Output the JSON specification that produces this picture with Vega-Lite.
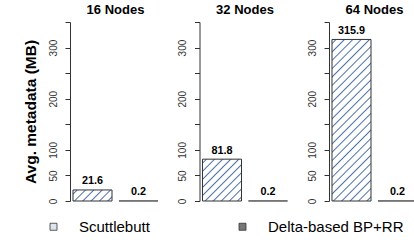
{
  "$schema": "https://vega.github.io/schema/vega-lite/v6.json",
  "background": "white",
  "padding": {"left": 23, "top": 3, "right": 0, "bottom": 0},
  "bounds": "flush",
  "spacing": 38.5,
  "config": {
    "font": "Liberation Sans",
    "view": {"stroke": null},
    "axis": {
      "domainColor": "#333",
      "tickColor": "#333",
      "tickSize": 5,
      "grid": false,
      "labelFont": "Liberation Sans",
      "labelFontSize": 10,
      "labelColor": "#333",
      "labelAngle": 270,
      "labelAlign": "center",
      "labelBaseline": "bottom",
      "labelPadding": 7,
      "labelOverlap": false,
      "titleFont": "Liberation Sans",
      "titleFontSize": 15.5,
      "titleFontWeight": "bold",
      "titleColor": "black",
      "titlePadding": 10
    },
    "title": {"font": "Liberation Sans", "fontSize": 13, "fontWeight": "bold", "color": "black", "anchor": "middle", "baseline": "alphabetic", "offset": 5},
    "legend": {
      "orient": "none", "legendX": -24, "legendY": 197, "direction": "horizontal",
      "labelFont": "Liberation Sans", "labelFontSize": 15, "labelColor": "black", "labelOffset": 18,
      "columnPadding": 85, "symbolSize": 49, "symbolType": "square", "symbolStrokeColor": "#333", "symbolStrokeWidth": 0.8, "padding": 0, "title": null
    }
  },
  "data": {"values": [
    {"nodes": "16 Nodes", "method": "Scuttlebutt", "value": 21.6},
    {"nodes": "16 Nodes", "method": "Delta-based BP+RR", "value": 0.2},
    {"nodes": "32 Nodes", "method": "Scuttlebutt", "value": 81.8},
    {"nodes": "32 Nodes", "method": "Delta-based BP+RR", "value": 0.2},
    {"nodes": "64 Nodes", "method": "Scuttlebutt", "value": 315.9},
    {"nodes": "64 Nodes", "method": "Delta-based BP+RR", "value": 0.2}
  ]},
  "hconcat": [
    {
      "width": 91, "height": 179,
      "title": "16 Nodes",
      "transform": [{"filter": "datum.nodes == '16 Nodes'"}],
      "encoding": {
        "x": {"field": "method", "type": "nominal", "axis": null, "scale": {"domain": ["Scuttlebutt", "Delta-based BP+RR"], "paddingInner": 0.152, "paddingOuter": 0.065}},
        "y": {"field": "value", "type": "quantitative", "scale": {"domain": [0, 350], "nice": false}, "axis": {"title": "Avg. metadata (MB)", "values": [0, 50, 100, 150, 200, 250, 300, 350], "labelExpr": "datum.value == 150 || datum.value == 250 || datum.value == 350 ? '' : datum.label"}}
      },
      "layer": [
        {"transform": [{"filter": "datum.method == 'Scuttlebutt'"}], "mark": {"type": "bar", "stroke": "#333", "strokeWidth": 1, "fill": {"gradient": "linear", "x1": 0, "y1": 0, "x2": 1.188, "y2": 0.3366, "stops": [
          {"offset": 0, "color": "white"},
          {"offset": 0.0553, "color": "white"}, {"offset": 0.0833, "color": "#4d72a8"}, {"offset": 0.1113, "color": "white"},
          {"offset": 0.222, "color": "white"}, {"offset": 0.25, "color": "#4d72a8"}, {"offset": 0.278, "color": "white"},
          {"offset": 0.3887, "color": "white"}, {"offset": 0.4167, "color": "#4d72a8"}, {"offset": 0.4447, "color": "white"},
          {"offset": 0.5553, "color": "white"}, {"offset": 0.5833, "color": "#4d72a8"}, {"offset": 0.6113, "color": "white"},
          {"offset": 0.722, "color": "white"}, {"offset": 0.75, "color": "#4d72a8"}, {"offset": 0.778, "color": "white"},
          {"offset": 0.8887, "color": "white"}, {"offset": 0.9167, "color": "#4d72a8"}, {"offset": 0.9447, "color": "white"},
          {"offset": 1, "color": "white"}
        ]}}},
        {"transform": [{"filter": "datum.method != 'Scuttlebutt'"}], "mark": {"type": "bar", "fill": "#555", "stroke": "#555", "strokeWidth": 1}},
        {"mark": {"type": "text", "baseline": "alphabetic", "dy": -5.5, "fontWeight": "bold", "fontSize": 10.8, "color": "black"}, "encoding": {"text": {"field": "value", "type": "quantitative", "format": ".1f"}}}
      ]
    },
    {
      "width": 91, "height": 179,
      "title": "32 Nodes",
      "transform": [{"filter": "datum.nodes == '32 Nodes'"}],
      "encoding": {
        "x": {"field": "method", "type": "nominal", "axis": null, "scale": {"domain": ["Scuttlebutt", "Delta-based BP+RR"], "paddingInner": 0.152, "paddingOuter": 0.065}},
        "y": {"field": "value", "type": "quantitative", "scale": {"domain": [0, 350], "nice": false}, "axis": {"title": null, "values": [0, 50, 100, 150, 200, 250, 300, 350], "labelExpr": "datum.value == 150 || datum.value == 250 || datum.value == 350 ? '' : datum.label"}}
      },
      "layer": [
        {"transform": [{"filter": "datum.method == 'Scuttlebutt'"}], "mark": {"type": "bar", "stroke": "#333", "strokeWidth": 1, "fill": {"gradient": "linear", "x1": 0, "y1": 0, "x2": 0.9638, "y2": 1.0337, "stops": [
          {"offset": 0, "color": "white"},
          {"offset": 0.0327, "color": "white"}, {"offset": 0.05, "color": "#4d72a8"}, {"offset": 0.0673, "color": "white"},
          {"offset": 0.1327, "color": "white"}, {"offset": 0.15, "color": "#4d72a8"}, {"offset": 0.1673, "color": "white"},
          {"offset": 0.2327, "color": "white"}, {"offset": 0.25, "color": "#4d72a8"}, {"offset": 0.2673, "color": "white"},
          {"offset": 0.3327, "color": "white"}, {"offset": 0.35, "color": "#4d72a8"}, {"offset": 0.3673, "color": "white"},
          {"offset": 0.4327, "color": "white"}, {"offset": 0.45, "color": "#4d72a8"}, {"offset": 0.4673, "color": "white"},
          {"offset": 0.5327, "color": "white"}, {"offset": 0.55, "color": "#4d72a8"}, {"offset": 0.5673, "color": "white"},
          {"offset": 0.6327, "color": "white"}, {"offset": 0.65, "color": "#4d72a8"}, {"offset": 0.6673, "color": "white"},
          {"offset": 0.7327, "color": "white"}, {"offset": 0.75, "color": "#4d72a8"}, {"offset": 0.7673, "color": "white"},
          {"offset": 0.8327, "color": "white"}, {"offset": 0.85, "color": "#4d72a8"}, {"offset": 0.8673, "color": "white"},
          {"offset": 0.9327, "color": "white"}, {"offset": 0.95, "color": "#4d72a8"}, {"offset": 0.9673, "color": "white"},
          {"offset": 1, "color": "white"}
        ]}}},
        {"transform": [{"filter": "datum.method != 'Scuttlebutt'"}], "mark": {"type": "bar", "fill": "#555", "stroke": "#555", "strokeWidth": 1}},
        {"mark": {"type": "text", "baseline": "alphabetic", "dy": -5.5, "fontWeight": "bold", "fontSize": 10.8, "color": "black"}, "encoding": {"text": {"field": "value", "type": "quantitative", "format": ".1f"}}}
      ]
    },
    {
      "width": 91, "height": 179,
      "title": "64 Nodes",
      "transform": [{"filter": "datum.nodes == '64 Nodes'"}],
      "encoding": {
        "x": {"field": "method", "type": "nominal", "axis": null, "scale": {"domain": ["Scuttlebutt", "Delta-based BP+RR"], "paddingInner": 0.152, "paddingOuter": 0.065}},
        "y": {"field": "value", "type": "quantitative", "scale": {"domain": [0, 350], "nice": false}, "axis": {"title": null, "values": [0, 50, 100, 150, 200, 250, 300, 350], "labelExpr": "datum.value == 150 || datum.value == 250 || datum.value == 350 ? '' : datum.label"}}
      },
      "layer": [
        {"transform": [{"filter": "datum.method == 'Scuttlebutt'"}], "mark": {"type": "bar", "stroke": "#333", "strokeWidth": 1, "fill": {"gradient": "linear", "x1": 0, "y1": 0, "x2": 0.28319, "y2": 1.17305, "stops": [
          {"offset": 0, "color": "white"},
          {"offset": 0.0138, "color": "white"}, {"offset": 0.0208, "color": "#4d72a8"}, {"offset": 0.0278, "color": "white"},
          {"offset": 0.0555, "color": "white"}, {"offset": 0.0625, "color": "#4d72a8"}, {"offset": 0.0695, "color": "white"},
          {"offset": 0.0972, "color": "white"}, {"offset": 0.1042, "color": "#4d72a8"}, {"offset": 0.1112, "color": "white"},
          {"offset": 0.1388, "color": "white"}, {"offset": 0.1458, "color": "#4d72a8"}, {"offset": 0.1528, "color": "white"},
          {"offset": 0.1805, "color": "white"}, {"offset": 0.1875, "color": "#4d72a8"}, {"offset": 0.1945, "color": "white"},
          {"offset": 0.2222, "color": "white"}, {"offset": 0.2292, "color": "#4d72a8"}, {"offset": 0.2362, "color": "white"},
          {"offset": 0.2638, "color": "white"}, {"offset": 0.2708, "color": "#4d72a8"}, {"offset": 0.2778, "color": "white"},
          {"offset": 0.3055, "color": "white"}, {"offset": 0.3125, "color": "#4d72a8"}, {"offset": 0.3195, "color": "white"},
          {"offset": 0.3472, "color": "white"}, {"offset": 0.3542, "color": "#4d72a8"}, {"offset": 0.3612, "color": "white"},
          {"offset": 0.3888, "color": "white"}, {"offset": 0.3958, "color": "#4d72a8"}, {"offset": 0.4028, "color": "white"},
          {"offset": 0.4305, "color": "white"}, {"offset": 0.4375, "color": "#4d72a8"}, {"offset": 0.4445, "color": "white"},
          {"offset": 0.4722, "color": "white"}, {"offset": 0.4792, "color": "#4d72a8"}, {"offset": 0.4862, "color": "white"},
          {"offset": 0.5138, "color": "white"}, {"offset": 0.5208, "color": "#4d72a8"}, {"offset": 0.5278, "color": "white"},
          {"offset": 0.5555, "color": "white"}, {"offset": 0.5625, "color": "#4d72a8"}, {"offset": 0.5695, "color": "white"},
          {"offset": 0.5972, "color": "white"}, {"offset": 0.6042, "color": "#4d72a8"}, {"offset": 0.6112, "color": "white"},
          {"offset": 0.6388, "color": "white"}, {"offset": 0.6458, "color": "#4d72a8"}, {"offset": 0.6528, "color": "white"},
          {"offset": 0.6805, "color": "white"}, {"offset": 0.6875, "color": "#4d72a8"}, {"offset": 0.6945, "color": "white"},
          {"offset": 0.7222, "color": "white"}, {"offset": 0.7292, "color": "#4d72a8"}, {"offset": 0.7362, "color": "white"},
          {"offset": 0.7638, "color": "white"}, {"offset": 0.7708, "color": "#4d72a8"}, {"offset": 0.7778, "color": "white"},
          {"offset": 0.8055, "color": "white"}, {"offset": 0.8125, "color": "#4d72a8"}, {"offset": 0.8195, "color": "white"},
          {"offset": 0.8472, "color": "white"}, {"offset": 0.8542, "color": "#4d72a8"}, {"offset": 0.8612, "color": "white"},
          {"offset": 0.8888, "color": "white"}, {"offset": 0.8958, "color": "#4d72a8"}, {"offset": 0.9028, "color": "white"},
          {"offset": 0.9305, "color": "white"}, {"offset": 0.9375, "color": "#4d72a8"}, {"offset": 0.9445, "color": "white"},
          {"offset": 0.9722, "color": "white"}, {"offset": 0.9792, "color": "#4d72a8"}, {"offset": 0.9862, "color": "white"},
          {"offset": 1, "color": "white"}
        ]}}},
        {"transform": [{"filter": "datum.method != 'Scuttlebutt'"}], "mark": {"type": "bar", "fill": "#555", "stroke": "#555", "strokeWidth": 1}},
        {"mark": {"type": "text", "baseline": "alphabetic", "dy": -5.5, "fontWeight": "bold", "fontSize": 10.8, "color": "black"}, "encoding": {"text": {"field": "value", "type": "quantitative", "format": ".1f"}}},
        {"transform": [{"filter": "false"}], "mark": {"type": "square", "opacity": 1},
         "encoding": {"fill": {"field": "method", "type": "nominal", "scale": {"domain": ["Scuttlebutt", "Delta-based BP+RR"], "range": ["#dde4ee", "#777777"]},
           "legend": {"encode": {"symbols": {"update": {
             "stroke": {"value": "#333"},
             "strokeWidth": {"value": 0.8},
             "fill": {"signal": "datum.value == 'Scuttlebutt' ? {gradient: 'linear', x1: 0, y1: 0, x2: 1, y2: 1, stops: [{offset: 0, color: 'white'}, {offset: 0.38, color: 'white'}, {offset: 0.5, color: '#4d72a8'}, {offset: 0.62, color: 'white'}, {offset: 1, color: 'white'}]} : {gradient: 'linear', x1: 0, y1: 0, x2: 1, y2: 1, stops: [{offset: 0, color: '#999'}, {offset: 0.1, color: '#333'}, {offset: 0.2, color: '#bbb'}, {offset: 0.3, color: '#333'}, {offset: 0.4, color: '#bbb'}, {offset: 0.5, color: '#333'}, {offset: 0.6, color: '#bbb'}, {offset: 0.7, color: '#333'}, {offset: 0.8, color: '#bbb'}, {offset: 0.9, color: '#333'}, {offset: 1, color: '#999'}]}"}
           }}}}}}}
      ]
    }
  ]
}
